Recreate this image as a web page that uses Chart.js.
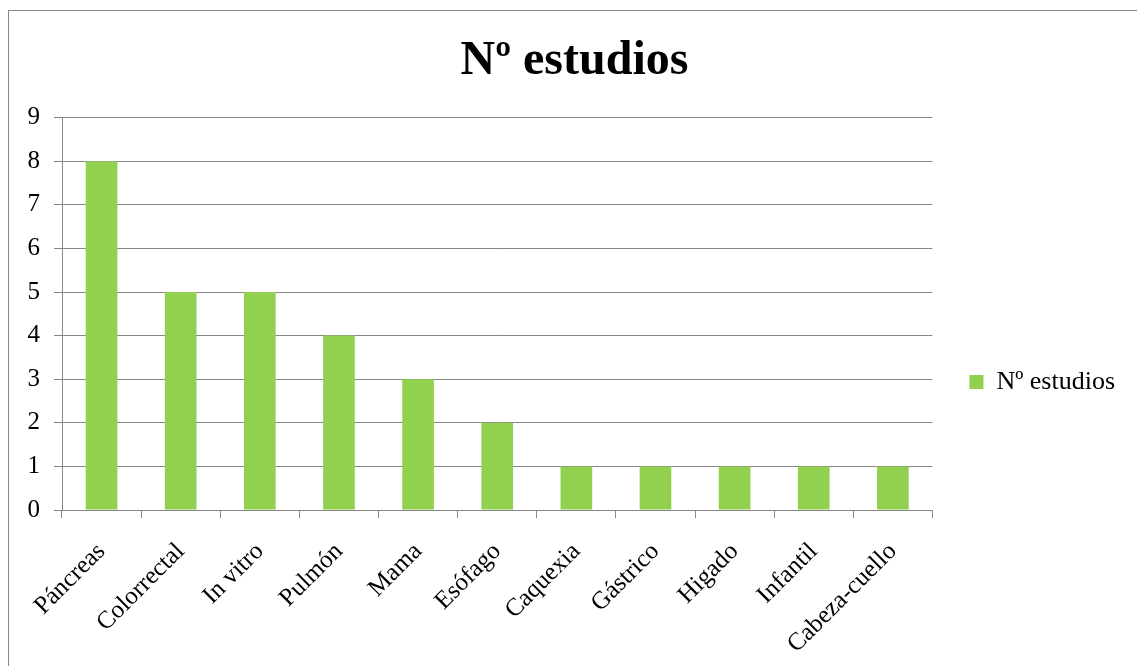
<!DOCTYPE html>
<html>
<head>
<meta charset="utf-8">
<script src="https://cdn.jsdelivr.net/npm/chart.js@4.4.1/dist/chart.umd.min.js"></script>
<style>
  html, body { margin: 0; padding: 0; background: #fff; }
  #wrap { width: 1137px; height: 666px; }
</style>
</head>
<body>
<div id="wrap"><canvas id="estudiosChart"></canvas></div>
<script>
// Datos del gráfico
const categorias = ['Páncreas', 'Colorrectal', 'In vitro', 'Pulmón', 'Mama', 'Esófago',
  'Caquexia', 'Gástrico', 'Higado', 'Infantil', 'Cabeza-cuello'];
const estudios = [8, 5, 5, 4, 3, 2, 1, 1, 1, 1, 1];
const nombreSerie = 'Nº estudios';

const fuente = 'Liberation Serif, Times New Roman, serif';
const gris = '#868686';

// Marco exterior del gráfico (como en Excel)
const marco = {
  id: 'marco',
  beforeDraw(chart) {
    const c = chart.ctx;
    c.save();
    c.fillStyle = '#fff';
    c.fillRect(0, 0, chart.width, chart.height);
    c.strokeStyle = gris;
    c.lineWidth = 1;
    c.strokeRect(8.5, 10.5, 1150, 700);
    c.restore();
  }
};

const config = {
  type: 'bar',
  data: {
    labels: categorias,
    datasets: [{
      label: nombreSerie,
      data: estudios,
      backgroundColor: '#92D050',
      borderWidth: 0,
      barPercentage: 0.4,
      categoryPercentage: 1
    }]
  },
  options: {
    responsive: false,
    animation: false,
    layout: { padding: { left: 24, right: 12, top: 10, bottom: 0 } },
    plugins: {
      title: {
        display: true,
        text: nombreSerie,
        color: '#000',
        font: { family: fuente, size: 48, weight: 'bold', lineHeight: 1.2 },
        padding: { top: 23, bottom: 27 }
      },
      legend: {
        position: 'right',
        title: { display: true, text: '', font: { size: 10, lineHeight: 1.2 }, padding: 38 },
        labels: {
          color: '#000',
          font: { family: fuente, size: 26 },
          boxWidth: 14,
          boxHeight: 14,
          padding: 37
        }
      },
      tooltip: { enabled: false }
    },
    scales: {
      x: {
        offset: true,
        grid: { display: true, drawOnChartArea: false, color: gris, tickLength: 8, offset: true },
        border: { color: gris },
        ticks: {
          color: '#000',
          font: { family: fuente, size: 25 },
          minRotation: 45,
          maxRotation: 45,
          autoSkip: false,
          padding: 19
        },
        afterFit(scale) {
          scale.height = 156;
          scale.paddingLeft = 0;
          scale.paddingRight = 0;
        }
      },
      y: {
        min: 0,
        max: 9,
        grid: { color: gris, tickLength: 8 },
        border: { color: gris },
        ticks: {
          stepSize: 1,
          color: '#000',
          font: { family: fuente, size: 25 },
          padding: 14
        },
        afterFit(scale) {
          scale.width = 38;
          scale.paddingTop = 0;
          scale.paddingBottom = 0;
        }
      }
    }
  },
  plugins: [marco]
};

const lienzo = document.getElementById('estudiosChart');
lienzo.width = 1137;
lienzo.height = 666;
new Chart(lienzo.getContext('2d'), config);
</script>
</body>
</html>
